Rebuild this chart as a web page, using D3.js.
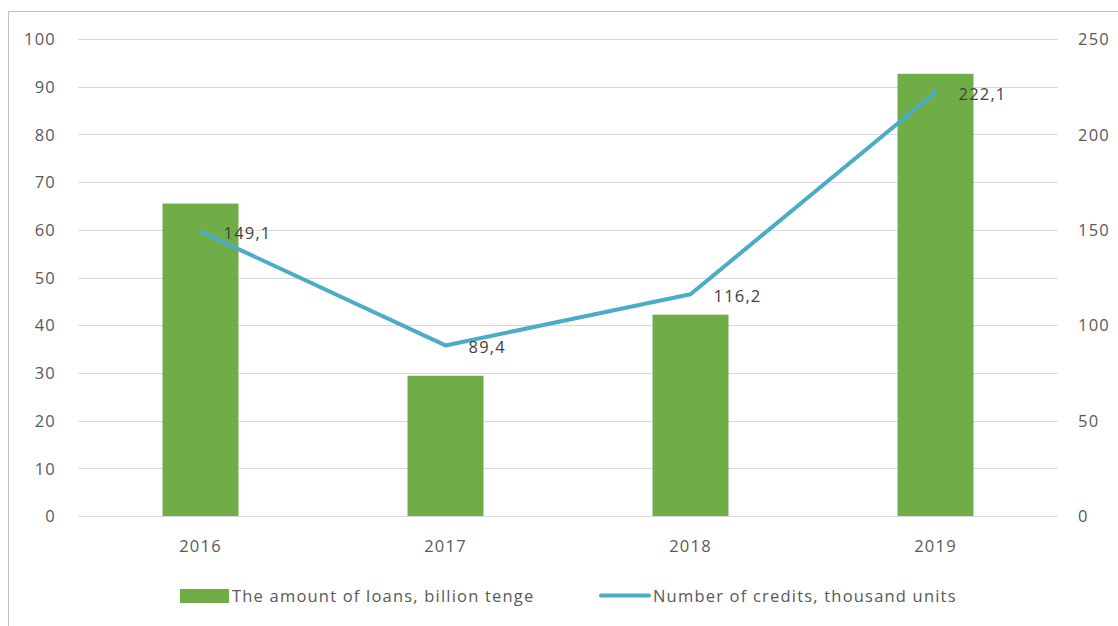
<!DOCTYPE html>
<html>
<head>
<meta charset="utf-8">
<script src="https://d3js.org/d3.v7.min.js"></script>
<style>
  body { margin: 0; background: #fff; }
  text { font-family: "Open Sans", sans-serif; fill: #595959; letter-spacing: 1.2px; }
</style>
</head>
<body>
<svg width="1118" height="626"></svg>
<script>
var years = ["2016", "2017", "2018", "2019"];
var loans = [65.5, 29.4, 42.2, 92.7];      // billion tenge, left axis
var credits = [149.1, 89.4, 116.2, 222.1]; // thousand units, right axis
var labels = ["149,1", "89,4", "116,2", "222,1"];
var leftTicks = [0, 10, 20, 30, 40, 50, 60, 70, 80, 90, 100];
var rightTicks = [0, 50, 100, 150, 200, 250];

var svg = d3.select("svg");
var m = {left: 78, right: 1058, top: 39, bottom: 516};
var fs = 16.5;

// frame
svg.append("path").attr("d", "M8.5,626V11.5H1118")
    .attr("fill", "none").attr("stroke", "#bfbfbf");

var x = d3.scaleBand().domain(years).range([m.left, m.right]).paddingInner(0.69).paddingOuter(0.345);
var y = d3.scaleLinear().domain([0, 100]).range([m.bottom, m.top]);
var y2 = d3.scaleLinear().domain([0, 250]).range([m.bottom, m.top]);

// gridlines
svg.append("g").selectAll("line").data(leftTicks).enter().append("line")
    .attr("x1", m.left).attr("x2", m.right)
    .attr("y1", function(d) { return Math.round(y(d)) + 0.5; })
    .attr("y2", function(d) { return Math.round(y(d)) + 0.5; })
    .attr("stroke", "#d9d9d9").attr("stroke-width", 1);

// left axis
var ax = svg.append("g").attr("transform", "translate(" + 56 + ",0)")
    .call(d3.axisLeft(y).tickValues(leftTicks).tickSize(0).tickPadding(0));
ax.select(".domain").remove();
ax.selectAll("text").attr("font-size", fs).style("fill", "#595959").attr("dy", "0.35em");

// right axis
var ax2 = svg.append("g").attr("transform", "translate(" + 1078 + ",0)")
    .call(d3.axisRight(y2).tickValues(rightTicks).tickSize(0).tickPadding(0));
ax2.select(".domain").remove();
ax2.selectAll("text").attr("font-size", fs).style("fill", "#595959").attr("dy", "0.35em");

// x axis labels
var ax3 = svg.append("g").attr("transform", "translate(0," + 546 + ")")
    .call(d3.axisBottom(x).tickSize(0).tickPadding(0));
ax3.select(".domain").remove();
ax3.selectAll("text").attr("font-size", fs).style("fill", "#595959").attr("dy", "0.35em").attr("y", 0);

// bars
svg.append("g").selectAll("rect").data(years).enter().append("rect")
    .attr("x", function(d) { return x(d); })
    .attr("width", x.bandwidth())
    .attr("y", function(d, i) { return y(loans[i]); })
    .attr("height", function(d, i) { return y(0) - y(loans[i]); })
    .attr("fill", "#70ad47");

// line
var line = d3.line()
    .x(function(d, i) { return x(years[i]) + x.bandwidth() / 2; })
    .y(function(d) { return y2(d); });
svg.append("path").datum(credits).attr("d", line)
    .attr("fill", "none").attr("stroke", "#4bacc6").attr("stroke-width", 4)
    .attr("stroke-linejoin", "round").attr("stroke-linecap", "round");

// data labels
svg.append("g").selectAll("text").data(credits).enter().append("text")
    .attr("x", function(d, i) { return x(years[i]) + x.bandwidth() / 2 + 23; })
    .attr("y", function(d) { return y2(d) + 2; })
    .attr("dy", "0.35em")
    .attr("font-size", fs)
    .style("fill", "#404040")
    .text(function(d, i) { return labels[i]; });

// legend
var lg = svg.append("g");
lg.append("rect").attr("x", 180).attr("y", 589).attr("width", 49).attr("height", 14).attr("fill", "#70ad47");
lg.append("text").attr("x", 232).attr("y", 596).attr("dy", "0.35em").attr("font-size", fs)
    .text("The amount of loans, billion tenge");
lg.append("line").attr("x1", 601).attr("x2", 649).attr("y1", 595.5).attr("y2", 595.5)
    .attr("stroke", "#4bacc6").attr("stroke-width", 4).attr("stroke-linecap", "round");
lg.append("text").attr("x", 653).attr("y", 596).attr("dy", "0.35em").attr("font-size", fs)
    .text("Number of credits, thousand units");
</script>
</body>
</html>
